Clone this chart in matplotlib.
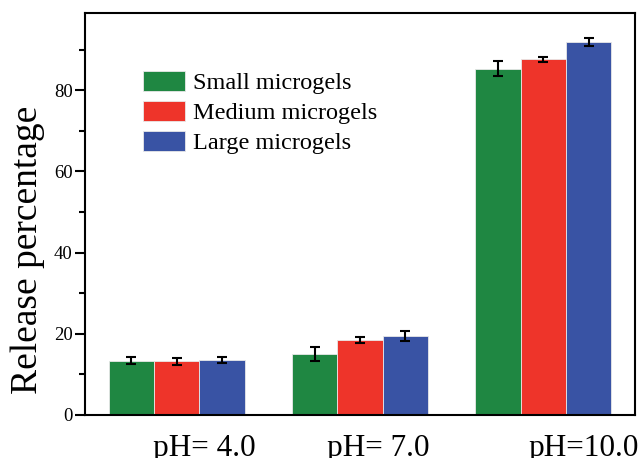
import numpy as np
import matplotlib
matplotlib.use('Agg')
from matplotlib import pyplot as plt

plt.rcParams['font.family'] = ['Liberation Serif', 'DejaVu Serif']

# data
groups = ['pH= 4.0', 'pH= 7.0', 'pH=10.0']
series = ['Small microgels', 'Medium microgels', 'Large microgels']
small = [13.4, 15.1, 85.3]
medium = [13.2, 18.5, 87.6]
large = [13.5, 19.4, 91.8]
small_err = [0.8, 1.7, 1.8]
medium_err = [0.8, 0.7, 0.6]
large_err = [0.8, 1.3, 1.0]

colors = ['#1f8742', '#ee342a', '#3953a4']

fig = plt.figure(figsize=(6.42, 4.58), dpi=100)
ax = fig.add_axes([0.1324, 0.0939, 0.8565, 0.8777])

x = np.arange(len(groups))
w = 0.247
for i, (vals, errs) in enumerate([(small, small_err), (medium, medium_err), (large, large_err)]):
    ax.bar(x + (i - 1) * w, vals, w, color=colors[i], edgecolor='#e8e8e8', linewidth=0.6,
           label=series[i], yerr=errs, capsize=3.6,
           error_kw=dict(ecolor='black', elinewidth=1.5, capthick=1.5))

ax.set_xlim(-0.5, 2.5)
ax.set_ylim(0, 99)
ax.set_yticks([0, 20, 40, 60, 80])
ax.set_yticks([10, 30, 50, 70, 90], minor=True)
ax.set_xticks([])
ax.tick_params(axis='y', which='major', direction='out', length=7, width=1.5, labelsize=13.5, pad=2)
ax.tick_params(axis='y', which='minor', direction='out', length=4, width=1.5)
for s in ax.spines.values():
    s.set_linewidth(1.5)

ax.set_ylabel('Release percentage', fontsize=27)
ax.yaxis.set_label_coords(-0.073, 0.41)

# group labels under the axis
label_x = [0.15, 0.10, 0.22]
for xi, lx, g in zip(x, label_x, groups):
    ax.text(xi + lx, -4.8, g, ha='center', va='top', fontsize=22.5, clip_on=False)

ax.legend(loc='upper left', bbox_to_anchor=(0.105, 0.855), frameon=False, fontsize=17.5,
          handlelength=1.75, handleheight=0.85, handletextpad=0.3, labelspacing=0.28,
          borderpad=0, borderaxespad=0)

fig.savefig('out.png', dpi=100)
